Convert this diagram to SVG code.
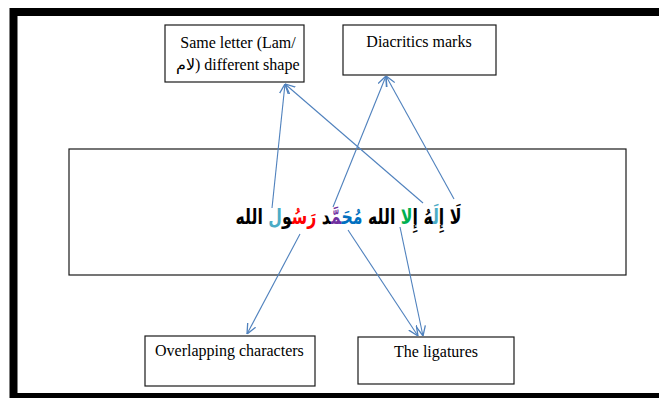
<svg xmlns="http://www.w3.org/2000/svg" width="659" height="398" viewBox="0 0 659 398">
<style>
.box{fill:#fff;stroke:#1a1a1a;stroke-width:1.2}
.lbl{font-family:"Liberation Serif","Times New Roman","DejaVu Sans",serif;font-size:16px;fill:#000}
.con{fill:none;stroke:#4F81BD;stroke-width:1.1;marker-end:url(#arr)}
.ar{font-family:"DejaVu Sans",sans-serif;font-weight:bold;font-size:21px;fill:#000}
</style>
<defs>
<marker id="arr" viewBox="0 0 10 10" refX="10" refY="5" markerWidth="10" markerHeight="10" markerUnits="userSpaceOnUse" orient="auto">
<path d="M0,0.5 L10,5 L0,9.5" fill="none" stroke="#4F81BD" stroke-width="1.3"/>
</marker>
</defs>
<rect x="0" y="0" width="659" height="398" fill="#fff"/>
<rect x="13.5" y="12" width="700" height="385" fill="#fff" stroke="#000" stroke-width="8"/>
<g id="main">
<rect class="box" x="69" y="149" width="557" height="126"/>
<text class="ar" x="0" y="224" text-anchor="middle" direction="rtl" transform="translate(348.5,0) scale(0.75,1)"><tspan>لَا إِ</tspan><tspan fill="#4BACC6">لَ</tspan><tspan>هُ إِ</tspan><tspan fill="#00B050">لا</tspan><tspan> الله </tspan><tspan fill="#0070C0">مُحَ</tspan><tspan fill="#7030A0">مَّ</tspan><tspan>د </tspan><tspan fill="#FF0000">رَسُ</tspan><tspan>و</tspan><tspan fill="#4BACC6">ل</tspan><tspan> الله</tspan></text>
</g>
<g id="same-letter">
<rect class="box" x="165" y="25" width="139" height="57"/>
<text class="lbl" x="238" y="48" text-anchor="middle">Same letter (Lam/</text>
<text class="lbl" x="195" y="70" text-anchor="end" font-size="14">لام</text>
<text class="lbl" x="195" y="70">) different shape</text>
</g>
<g id="diacritics">
<rect class="box" x="343" y="25" width="153" height="50"/>
<text class="lbl" x="419" y="47" text-anchor="middle">Diacritics marks</text>
</g>
<g id="overlapping">
<rect class="box" x="145" y="336" width="170" height="50"/>
<text class="lbl" x="155" y="356">Overlapping characters</text>
</g>
<g id="ligatures">
<rect class="box" x="358" y="337" width="156" height="47"/>
<text class="lbl" x="436" y="357" text-anchor="middle">The ligatures</text>
</g>
<g id="connectors">
<line class="con" x1="272" y1="208" x2="285" y2="84"/>
<line class="con" x1="423" y1="203" x2="285" y2="84"/>
<line class="con" x1="333" y1="207" x2="386" y2="76"/>
<line class="con" x1="454" y1="199" x2="386" y2="76"/>
<line class="con" x1="300" y1="234" x2="247" y2="334"/>
<line class="con" x1="348" y1="230" x2="418" y2="336"/>
<line class="con" x1="400" y1="227" x2="423" y2="336"/>
</g>
</svg>
